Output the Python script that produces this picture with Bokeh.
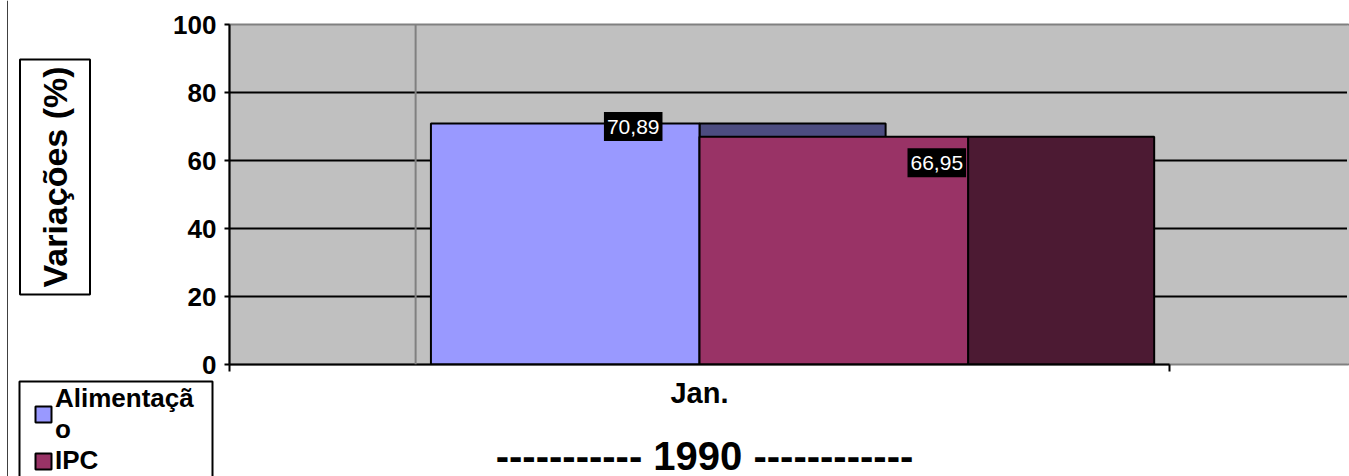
import math
from bokeh.plotting import figure
from bokeh.models import (Range1d, LinearAxis, FixedTicker, Grid, Span, Label,
                          Legend, LegendItem, GridBox, BoxAnnotation)
from bokeh.embed import file_html
from bokeh.resources import INLINE

# ---- data ----
categories = ["Jan."]
series_names = ["Alimentaçã\no", "IPC"]
values = [70.89, 66.95]
value_labels = ["70,89", "66,95"]
y_ticks = [0, 20, 40, 60, 80, 100]
grid_ticks = [20, 40, 60, 80]
year_label = "----------- 1990 ------------"
y_title = "Variações (%)"

# ---- style ----
FONT = "Liberation Sans"
W, H = 1349, 476
front_colors = ["#9999FF", "#993366"]
side_colors = ["#4C4C80", "#4C1A33"]
bar_w = 2 / 7          # gap width 150 %
depth = 0.198          # 3-D depth, in category units
x_end = 1.1915
cat_center = 0.5
label_dx = [68, 103]   # px
label_dy = [-3, -26]   # px

# =========================== main chart ===========================
p = figure(width=W, height=H, output_backend="svg", toolbar_location=None,
           x_range=Range1d(0, x_end), y_range=Range1d(0, 100),
           x_axis_type=None, y_axis_type=None,
           min_border_left=229, min_border_right=0, min_border_top=24,
           min_border_bottom=112)
p.background_fill_color = "#C0C0C0"
p.border_fill_color = "white"
p.outline_line_color = "#808080"
p.outline_line_width = 2

p.add_layout(Grid(dimension=1, ticker=FixedTicker(ticks=grid_ticks),
                  grid_line_color="black", grid_line_width=2))
p.add_layout(Span(location=depth, dimension="height", line_color="#808080", line_width=2))

n = len(values)
lefts, centers = [], []
for i in range(n):
    left = cat_center - n * bar_w / 2 + i * bar_w
    right = left + bar_w
    lefts.append(left)
    centers.append((left + right) / 2)
    p.quad(left=[right], right=[right + depth], bottom=[0], top=[values[i]],
           fill_color=side_colors[i], line_color="black", line_width=2)
    p.quad(left=[left], right=[right], bottom=[0], top=[values[i]],
           fill_color=front_colors[i], line_color="black", line_width=2)

for i in range(n):
    p.add_layout(Label(x=centers[i], y=values[i], text=value_labels[i],
                       x_offset=label_dx[i], y_offset=label_dy[i],
                       text_font=FONT, text_font_size="21px", text_color="white",
                       text_align="center", text_baseline="middle",
                       background_fill_color="black",
                       padding=dict(left=3, right=3, top=8, bottom=7)))

yaxis = LinearAxis(ticker=FixedTicker(ticks=y_ticks),
                   major_label_text_font=FONT, major_label_text_font_style="bold",
                   major_label_text_font_size="26px", major_label_text_color="black",
                   major_tick_out=5, major_tick_in=0, major_tick_line_width=2,
                   major_label_standoff=8, minor_tick_out=0, minor_tick_in=0,
                   axis_line_width=2, axis_line_color="black")
p.add_layout(yaxis, "left")

xaxis = LinearAxis(ticker=FixedTicker(ticks=[cat_center], minor_ticks=[0, 1]),
                   bounds=(0, 1),
                   major_label_overrides={cat_center: categories[0]},
                   major_label_text_font=FONT, major_label_text_font_style="bold",
                   major_label_text_font_size="29px", major_label_text_color="black",
                   major_tick_out=0, major_tick_in=0,
                   minor_tick_out=7, minor_tick_in=0, minor_tick_line_width=2,
                   minor_tick_line_color="black",
                   major_label_standoff=5,
                   axis_line_width=2, axis_line_color="black")
p.add_layout(xaxis, "below")

# ============== overlay (titles + legend outside the plot area) ==============
ov = figure(width=W, height=H, output_backend="svg", toolbar_location=None,
            x_range=Range1d(0, W), y_range=Range1d(H, 0),
            x_axis_type=None, y_axis_type=None, min_border=0,
            min_border_left=0, min_border_right=0, min_border_top=0, min_border_bottom=0)
ov.outline_line_color = None
ov.background_fill_alpha = 0
ov.border_fill_alpha = 0
ov.extra_x_ranges = {"hidden": Range1d(10, 11)}
for fig in (p, ov):
    try:
        fig.frame_align = False
    except Exception:
        pass

# legend frame
ov.add_layout(BoxAnnotation(left=19, right=212, top=381, bottom=490,
                            fill_color="white", fill_alpha=1,
                            line_color="black", line_width=2, line_alpha=1))

legend_renderers = []
for i in range(n):
    r = ov.quad(left=[lefts[i]], right=[lefts[i] + bar_w], bottom=[0], top=[values[i]],
                x_range_name="hidden",
                fill_color=front_colors[i], line_color="black", line_width=2)
    legend_renderers.append(r)

legend = Legend(items=[LegendItem(label=series_names[i], renderers=[legend_renderers[i]])
                       for i in range(n)],
                location=(33, 0), orientation="vertical",
                border_line_color=None, background_fill_alpha=0,
                label_text_font=FONT, label_text_font_style="bold",
                label_text_font_size="26px", label_text_color="black",
                label_text_line_height=0.86, label_standoff=2,
                glyph_width=20, glyph_height=20, padding=0, spacing=-18, margin=0)
ov.add_layout(legend)

ov.add_layout(Label(x=54.5, y=176.5, text=y_title, angle=math.pi / 2,
                    text_font=FONT, text_font_style="bold", text_font_size="34px",
                    text_color="black", text_align="center", text_baseline="middle",
                    border_line_color="black", border_line_width=2,
                    background_fill_color="white",
                    padding=dict(left=7, right=7, top=16, bottom=16)))

ov.add_layout(Label(x=704, y=455, text=year_label,
                    text_font=FONT, text_font_style="bold", text_font_size="40px",
                    text_color="black", text_align="center", text_baseline="middle"))

ov.add_layout(Span(location=7, dimension="height", line_color="#404040", line_width=1))
# hide the right edge of the plot outline (the plot area continues past the window)
ov.add_layout(BoxAnnotation(left=1346.5, right=1349, top=25, bottom=363,
                            fill_color="#C0C0C0", fill_alpha=1, line_color=None))

layout = GridBox(children=[(p, 0, 0), (ov, 0, 0)], spacing=0)

open("out.html", "w").write(file_html(layout, INLINE))
